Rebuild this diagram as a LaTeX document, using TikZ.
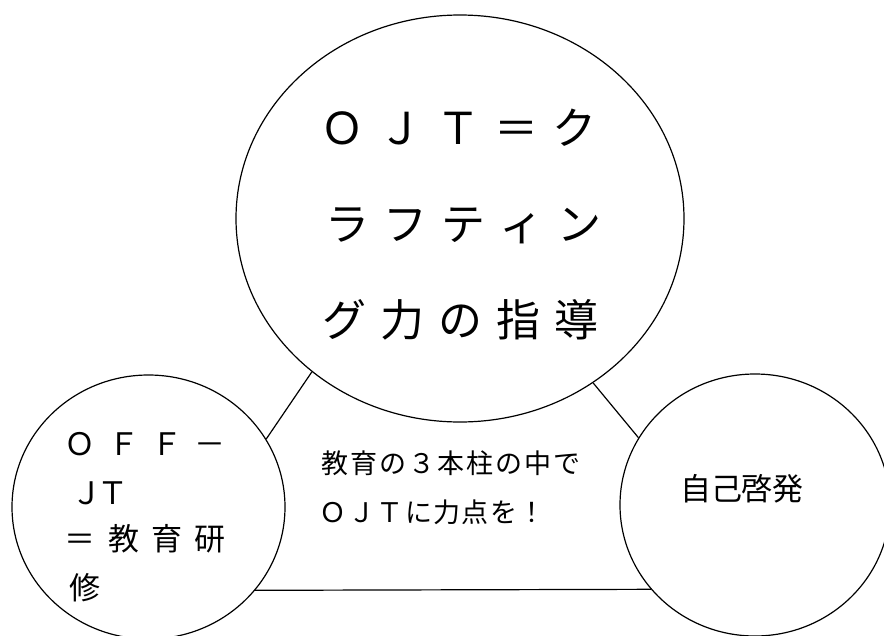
\documentclass[tikz,border=0pt]{standalone}
\usepackage{fontspec}
\setmainfont{Noto Sans CJK JP}
\usetikzlibrary{shapes.geometric}
\newlength\cellw
\def\spcchars#1{\ifx#1\relax\else\makebox[\cellw]{#1}\expandafter\spcchars\fi}
\newcommand\spaced[2]{\setlength\cellw{#1pt}\spcchars#2\relax}
\tikzset{
  ring/.style={draw, ellipse, line width=1.2pt, inner sep=0pt},
  conn/.style={line width=1.2pt},
  txt/.style={inner sep=0pt, anchor=base west},
  bigf/.style={font=\fontsize{44pt}{44pt}\selectfont},
  leftf/.style={font=\fontsize{31pt}{31pt}\selectfont},
  midf/.style={font=\fontsize{27pt}{27pt}\selectfont},
  rightf/.style={font=\fontsize{31pt}{31pt}\selectfont},
}
\begin{document}
\begin{tikzpicture}[x=1pt,y=-1pt]
\useasboundingbox (0,0) rectangle (884,635);
\fill[white] (0,0) rectangle (884,635);
\node[ring, minimum width=448pt, minimum height=407pt] (big) at (460,218.5) {};
\node[ring, minimum width=273pt, minimum height=264pt] (left) at (148.5,507) {};
\node[ring, minimum width=270pt, minimum height=262pt] (right) at (755,505) {};
\draw[conn] (big.226.4) -- (left.30.1);
\draw[conn] (big.309.9) -- (right.150.6);
\draw[conn] (left.-38.5) -- (right.219);
% big circle text
\node[txt, bigf] (b1) at (313,144) {\spaced{58}{ＯＪＴ＝ク}};
\node[txt, bigf] (b2) at (318,240) {\spaced{58}{ラフティン}};
\node[txt, bigf] (b3) at (315,336) {\spaced{58}{グ力の指導}};
% left circle text
\node[txt, leftf] (l1) at (58.5,455) {\spaced{43.3}{ＯＦＦ－}};
\node[txt, leftf] (l2) at (74,504) {\spaced{26}{ＪＴ}};
\node[txt, leftf] (l3) at (58.5,550) {\spaced{43.3}{＝教育研}};
\node[txt, leftf] (l4) at (70,599) {\spaced{30}{修}};
% middle text
\node[txt, midf] (m1) at (320.5,473) {\spaced{29}{教育の３本柱の中で}};
\node[txt, midf] (m2) at (319,522) {\spaced{28.4}{ＯＪＴに力点を！}};
% right circle text
\node[txt, rightf] (r1) at (681,500) {\spaced{30.5}{自己啓発}};
\end{tikzpicture}
\end{document}
